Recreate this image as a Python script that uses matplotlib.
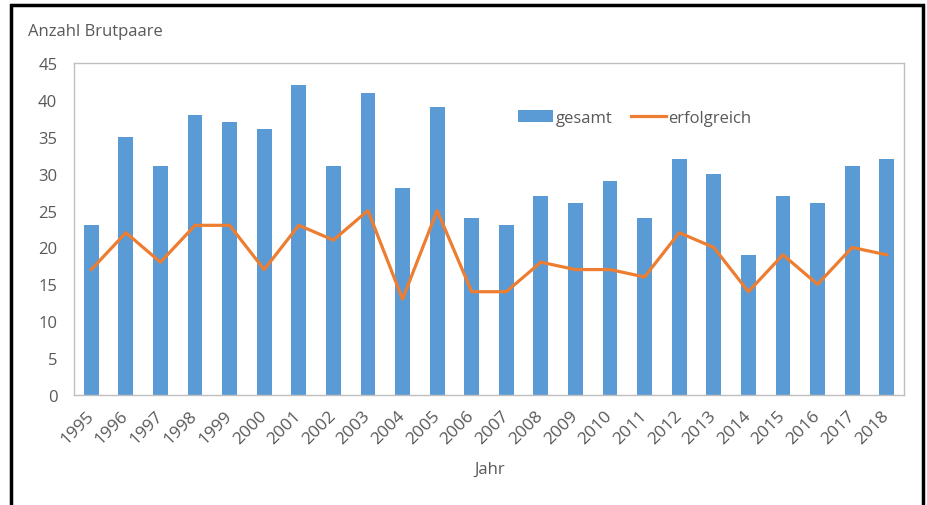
import matplotlib.pyplot as plt
from matplotlib.patches import Rectangle

years = [str(y) for y in range(1995, 2019)]
gesamt = [23, 35, 31, 38, 37, 36, 42, 31, 41, 28, 39, 24,
          23, 27, 26, 29, 24, 32, 30, 19, 27, 26, 31, 32]
erfolgreich = [17, 22, 18, 23, 23, 17, 23, 21, 25, 13, 25, 14,
               14, 18, 17, 17, 16, 22, 20, 14, 19, 15, 20, 19]

BLUE = "#5B9BD5"
ORANGE = "#ED7D31"
TEXT = "#595959"

plt.rcParams["font.family"] = ["Open Sans", "DejaVu Sans"]


def main():
    fig = plt.figure(figsize=(9.28, 5.06), dpi=100)
    ax = fig.add_axes([74 / 928, 1 - 396 / 506, 830 / 928, 332 / 506])

    x = list(range(len(years)))
    bars = ax.bar(x, gesamt, width=0.43, color=BLUE, zorder=2)
    line, = ax.plot(x, erfolgreich, color=ORANGE, lw=2.3, zorder=3)

    ax.set_xlim(-0.5, len(years) - 0.5)
    ax.set_ylim(0, 45)
    ax.set_yticks(range(0, 50, 5))
    ax.set_xticks(x)
    ax.set_xticklabels(years, rotation=45, ha="right", va="center",
                       rotation_mode="anchor", fontsize=12.5)
    ax.tick_params(axis="both", length=0, colors=TEXT)
    ax.tick_params(axis="x", pad=13)
    ax.tick_params(axis="y", pad=12, labelsize=12)

    for s in ax.spines.values():
        s.set_color("#BFBFBF")
        s.set_linewidth(1)

    fig.text(490 / 928, 1 - 470 / 506, "Jahr", color=TEXT, fontsize=12,
             ha="center", va="center")
    fig.text(28 / 928, 1 - 32 / 506, "Anzahl Brutpaare", color=TEXT,
             fontsize=12, va="center", ha="left")

    fig.legend([bars, line], ["gesamt", "erfolgreich"], loc="center left",
               bbox_to_anchor=(518 / 928, 1 - 119 / 506), ncol=2,
               frameon=False, fontsize=12, labelcolor=TEXT,
               borderpad=0, borderaxespad=0,
               handlelength=2.1, columnspacing=1.1, handletextpad=0.15)

    # outer frame of the chart
    fig.patches.append(Rectangle((11 / 928, -0.05), 912 / 928, 1.05 - 6 / 506,
                                 transform=fig.transFigure, fill=False,
                                 edgecolor="black", lw=2.5))

    fig.savefig("out.png", dpi=100)


if __name__ == "__main__":
    main()
